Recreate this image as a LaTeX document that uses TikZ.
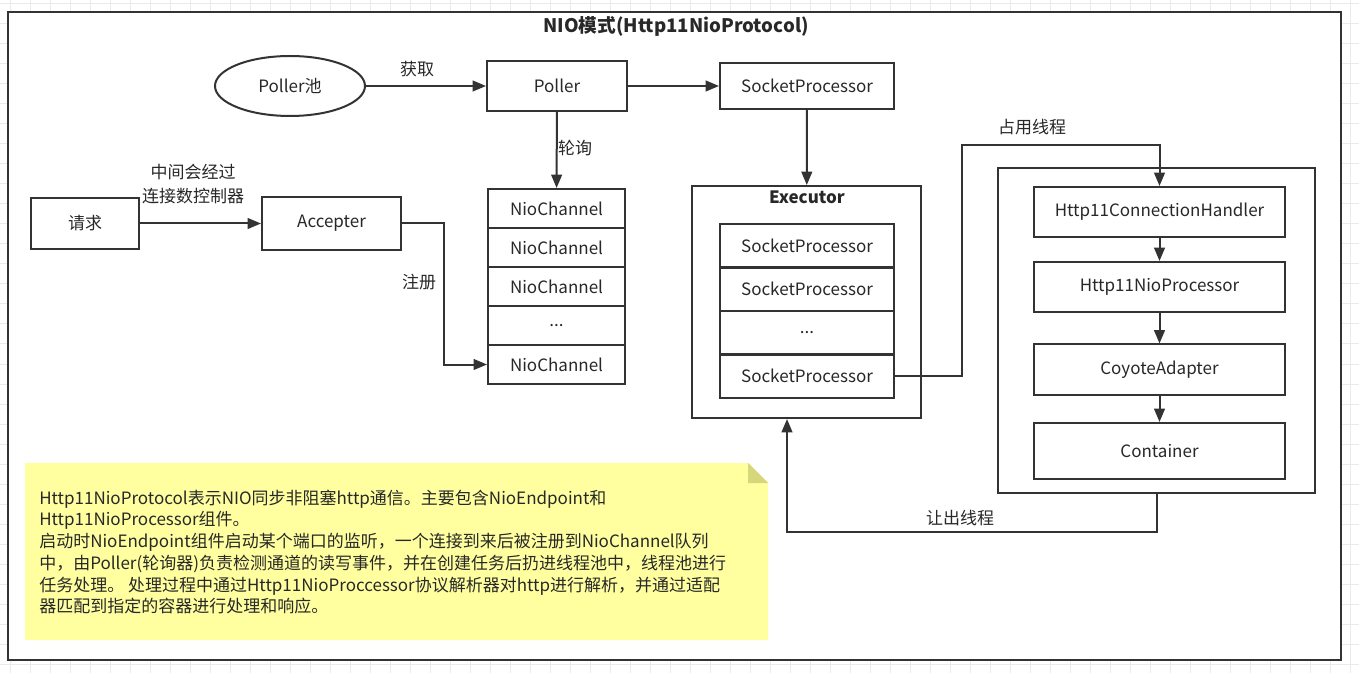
\documentclass[tikz,border=0pt]{standalone}
\usepackage{fontspec}
\setmainfont{Noto Sans CJK SC}
\usetikzlibrary{arrows.meta,shapes.geometric}

\definecolor{linec}{RGB}{51,51,51}
\definecolor{inkc}{RGB}{40,40,40}
\definecolor{gridc}{RGB}{234,234,234}
\definecolor{notebg}{RGB}{255,255,160}
\definecolor{notefold}{RGB}{214,214,122}

\begin{document}
\begin{tikzpicture}[x=0.75pt,y=0.75pt,yscale=-1,xscale=1,
  every node/.style={font=\fontsize{12.75pt}{16.3pt}\selectfont, text=inkc},
  gridline/.style={draw=gridc, line width=0.75pt},
  frame/.style={draw=linec, line width=1.5pt, fill=white},
  box/.style={draw=linec, line width=1.5pt, fill=white, inner sep=0pt},
  chanrow/.style={box, minimum width=102.75pt, minimum height=29.25pt},
  procrow/.style={box, minimum width=130.5pt, minimum height=32.6pt},
  stage/.style={box, minimum width=188.25pt, minimum height=37.5pt},
  lbl/.style={inner sep=0.75pt},
  conn/.style={draw=linec, line width=1.5pt, -{Triangle[length=10pt,width=8pt]}}]
\useasboundingbox (0,0) rectangle (1359,673);

% background grid
\foreach \gx in {10,30,...,1350} \draw[gridline] (\gx,0) -- (\gx,673);
\foreach \gy in {4,24,...,664} \draw[gridline] (0,\gy) -- (1359,\gy);

% outer frame
\draw[frame] (8,12) rectangle (1341,660);
\node[lbl, font=\fontsize{14pt}{16pt}\selectfont\bfseries] (title) at (676,26) {NIO模式(Http11NioProtocol)};

% Poller side
\node[draw=linec, line width=1.5pt, fill=white, ellipse, minimum width=112.5pt, minimum height=45pt] (pool) at (290,86) {Poller池};
\node[box, minimum width=105pt, minimum height=37.5pt] (poller) at (557,86) {Poller};
\node[box, minimum width=130.5pt, minimum height=34.5pt] (sptop) at (807,86) {SocketProcessor};

% request side
\node[box, minimum width=81pt, minimum height=38.25pt] (req) at (85,223.5) {请求};
\node[box, minimum width=104.25pt, minimum height=39.75pt] (acc) at (331.5,223.5) {Accepter};

% NioChannel queue
\node[chanrow] (chan1) at (556.5,208.5) {NioChannel};
\node[chanrow] (chan2) at (556.5,247.5) {NioChannel};
\node[chanrow] (chan3) at (556.5,286.5) {NioChannel};
\node[chanrow] (chan4) at (556.5,325.5) {...};
\node[chanrow] (chan5) at (556.5,364.5) {NioChannel};

% Executor
\node[box, minimum width=171.75pt, minimum height=174pt] (exec) at (806.5,302) {};
\node[lbl, font=\fontsize{12.75pt}{16pt}\selectfont\bfseries] (exectitle) at (807,197) {Executor};
\node[procrow] (sp1) at (807,245.75) {SocketProcessor};
\node[procrow] (sp2) at (807,289.25) {SocketProcessor};
\node[procrow] (sp3) at (807,332.75) {...};
\node[procrow] (sp4) at (807,376.25) {SocketProcessor};

% processing chain
\node[box, minimum width=237.75pt, minimum height=243.75pt] (chain) at (1156.5,330.5) {};
\node[stage] (ch) at (1159.5,212) {Http11ConnectionHandler};
\node[stage] (np) at (1159.5,287) {Http11NioProcessor};
\node[stage] (ca) at (1159.5,369.5) {CoyoteAdapter};
\node[stage, minimum height=42pt] (ct) at (1159.5,451) {Container};

% note
\fill[notebg] (25,463) -- (748,463) -- (768,483) -- (768,640) -- (25,640) -- cycle;
\fill[notefold] (748,463) -- (768,483) -- (748,483) -- cycle;
\node[lbl, anchor=west, align=left] (notetext) at (38,552) {Http11NioProtocol表示NIO同步非阻塞http通信。主要包含NioEndpoint和\\
Http11NioProcessor组件。\\
启动时NioEndpoint组件启动某个端口的监听，一个连接到来后被注册到NioChannel队列\\
中，由Poller(轮询器)负责检测通道的读写事件，并在创建任务后扔进线程池中，线程池进行\\
任务处理。 处理过程中通过Http11NioProccessor协议解析器对http进行解析，并通过适配\\
器匹配到指定的容器进行处理和响应。};

% bend points
\coordinate (regbend) at (444,223.5);
\coordinate (holdbend) at (962,145);
\coordinate (releasebend) at (787,532);

% connectors
\draw[conn] (pool.east) -- (poller.west);
\draw[conn] (poller) -- (sptop);
\draw[conn] (poller) -- (chan1);
\draw[conn] (req) -- (acc);
\draw[conn] (acc.east) -- (regbend) |- (chan5.west);
\draw[conn] (sptop) -- (exec);
\draw[conn] (sp4.east) -| (holdbend) -| (ch.north);
\draw[conn] (ch) -- (np);
\draw[conn] (np) -- (ca);
\draw[conn] (ca) -- (ct);
\draw[conn] (chain.south) |- (releasebend) -- (releasebend |- exec.south);

% Text Node
\node[lbl] (getlbl) at (417,69) {获取};
% Text Node
\node[lbl] (polllbl) at (575,148) {轮询};
% Text Node
\node[lbl, align=center, font=\fontsize{12.75pt}{18pt}\selectfont] (passlbl) at (193,184) {中间会经过\\连接数控制器};
% Text Node
\node[lbl] (reglbl) at (419,282) {注册};
% Text Node
\node[lbl] (holdlbl) at (1032,127) {占用线程};
% Text Node
\node[lbl] (releaselbl) at (960,518) {让出线程};

\end{tikzpicture}
\end{document}
